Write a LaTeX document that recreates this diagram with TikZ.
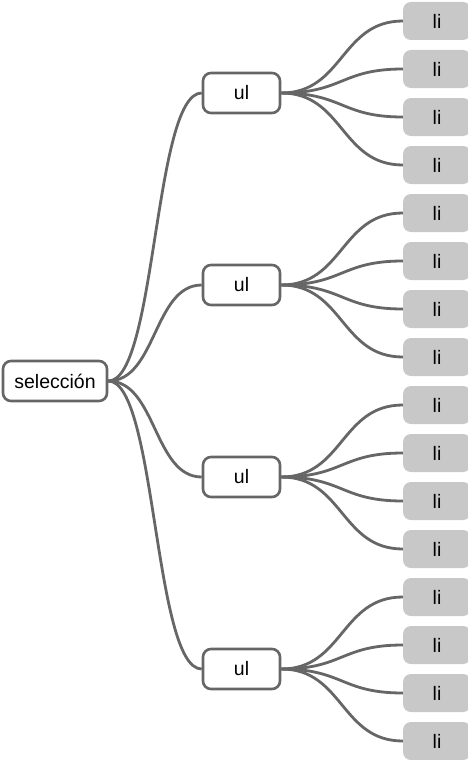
\documentclass[tikz,border=0pt]{standalone}
\usepackage{fontspec}
\setmainfont{Liberation Sans}
\usetikzlibrary{positioning}
\definecolor{linegray}{HTML}{666666}
\definecolor{leafgray}{HTML}{C8C8C8}

\begin{document}
\begin{tikzpicture}
    [x=1pt, y=-1pt, font=\fontsize{19.5}{22}\selectfont,
    root/.style={rectangle, rounded corners=8pt, draw=linegray, line width=2.6pt,
      fill=white, minimum width=104pt, minimum height=40pt, inner sep=0pt},
    list/.style={rectangle, rounded corners=8pt, draw=linegray, line width=2.6pt,
      fill=white, minimum width=77pt, minimum height=40pt, inner sep=0pt},
    item/.style={rectangle, rounded corners=8pt, fill=leafgray,
      minimum width=68pt, minimum height=38pt, inner sep=0pt},
    branch/.style={draw=linegray, line width=2.8pt}]

  \useasboundingbox (0,0) rectangle (468,760);

  \node[root] (sel) at (55,381) {selección};

  \foreach \u in {0,...,3} {
    \node[list] (ul\u) at (241.5,93+192*\u) {ul};
    \draw[branch] (sel.east) .. controls +(48,0) and +(-48,0) .. (ul\u.west);
    \foreach \l in {0,...,3} {
      \pgfmathtruncatemacro{\n}{4*\u+\l}
      \node[item] (li\n) at (437,21+48*\n) {li};
      \draw[branch] (ul\u.east) .. controls +(62,0) and +(-62,0) .. (li\n.west);
    }
  }

\end{tikzpicture}
\end{document}
